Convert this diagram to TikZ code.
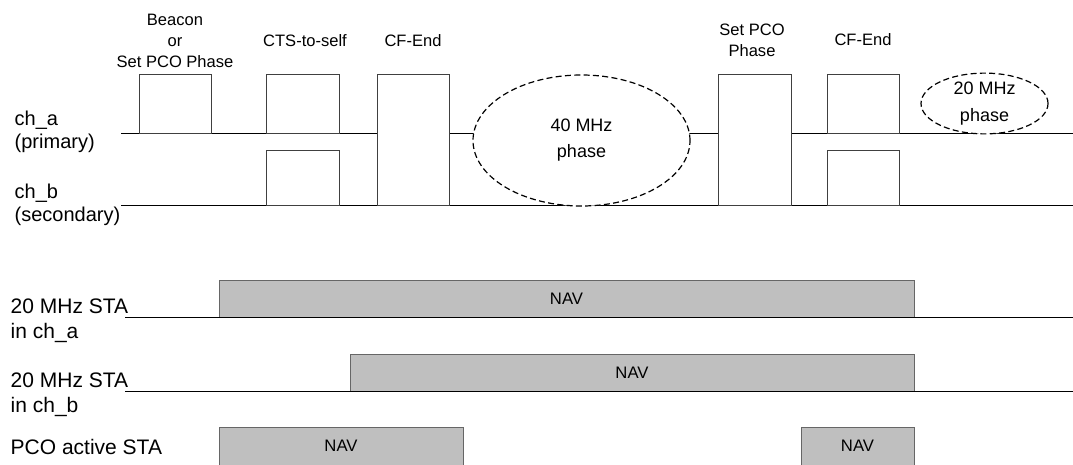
\documentclass[tikz,border=0pt]{standalone}
\usepackage{fontspec}
\setmainfont{Liberation Sans}
\usetikzlibrary{shapes.geometric}

\begin{document}
\begin{tikzpicture}[x=0.75pt,y=-0.75pt,
    frame/.style={draw=black!75,fill=white,line width=0.75pt},
    track/.style={draw=black,line width=0.75pt},
    navbar/.style={draw=black!60,fill=black!25,line width=0.75pt},
    phase/.style={draw=black,fill=white,ellipse,dash pattern=on 4.5pt off 2.5pt,line width=0.9pt,align=center,inner sep=0pt},
    frmlbl/.style={align=center,font=\fontsize{12.4}{16}\selectfont},
    chlbl/.style={anchor=west,align=left,font=\fontsize{15}{17.25}\selectfont},
    stalbl/.style={anchor=west,align=left,font=\fontsize{15.75}{18.75}\selectfont},
    navlbl/.style={font=\fontsize{12.5}{15}\selectfont}]
    \useasboundingbox (0,0) rectangle (1073,464);

    % channels
    \draw[track] (121,133) -- (1073,133);
    \draw[track] (121,205) -- (1073,205);
    \node[chlbl] (cha) at (10,131.5) {ch\_a\\(primary)};
    \node[chlbl] (chb) at (10,204.5) {ch\_b\\(secondary)};

    % frames
    \draw[frame] (139,74) rectangle (211,133);
    \draw[frame] (266,74) rectangle (339,133);
    \draw[frame] (266,150) rectangle (339,205);
    \draw[frame] (377,74) rectangle (449,205);
    \draw[frame] (718,74) rectangle (791,205);
    \draw[frame] (827,74) rectangle (899,133);
    \draw[frame] (827,150) rectangle (899,205);

    \node[frmlbl] (bcnlbl) at (175,41) {Beacon\\or\\Set PCO Phase};
    \node[frmlbl] (ctslbl) at (305,41) {CTS-to-self};
    \node[frmlbl] (cfe1lbl) at (413,41) {CF-End};
    \node[frmlbl] (pcolbl) at (752,40) {Set PCO\\Phase};
    \node[frmlbl] (cfe2lbl) at (863,40) {CF-End};

    % phases
    \node[phase,minimum width=162.75pt,minimum height=98.25pt,
        font=\fontsize{13.5}{19.5}\selectfont] (ph40) at (581.5,140.5) {40 MHz\\phase};
    \node[phase,minimum width=95.25pt,minimum height=44.25pt,
        font=\fontsize{13.5}{20}\selectfont] (ph20) at (984.5,103.5) {20 MHz\\phase};

    % NAV rows
    \foreach \xa/\xb/\ya/\yb in {219/914/280/317, 350/914/354/391, 219/463/427/465, 801/914/427/465}
        \path[navbar] (\xa,\yb) |- (\xb,\ya) -- (\xb,\yb);
    \draw[track] (125,317) -- (1073,317);
    \draw[track] (125,391) -- (1073,391);

    \node[navlbl] (nav1) at (566.5,298.5) {NAV};
    \node[navlbl] (nav2) at (632,372.5) {NAV};
    \node[navlbl] (nav3) at (341,445.5) {NAV};
    \node[navlbl] (nav4) at (857.5,445.5) {NAV};

    \node[stalbl] (staa) at (6,320.5) {20 MHz STA\\in ch\_a};
    \node[stalbl] (stab) at (6,394.5) {20 MHz STA\\in ch\_b};
    \node[stalbl] (pco) at (6,447) {PCO active STA};
\end{tikzpicture}
\end{document}
